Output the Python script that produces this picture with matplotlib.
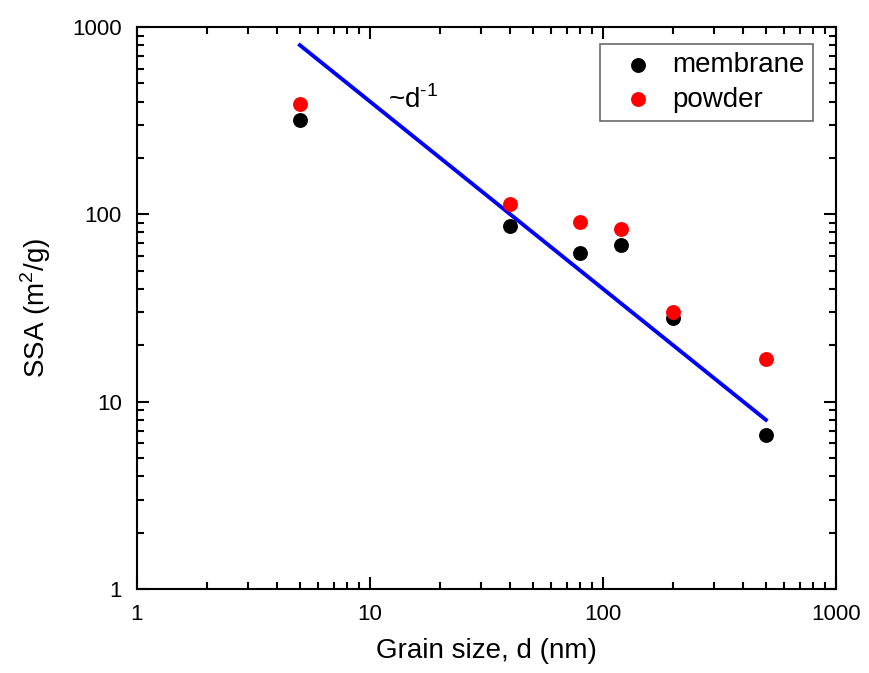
import matplotlib
matplotlib.use('Agg')
from matplotlib import pyplot as plt
import numpy as np

plt.rcParams['font.family'] = ['Liberation Sans', 'DejaVu Sans']
plt.rcParams['mathtext.fontset'] = 'custom'
plt.rcParams['mathtext.rm'] = 'Liberation Sans'

# grain size (nm)
d = [5, 40, 80, 120, 200, 500]
membrane = [320, 87, 62, 69, 28, 6.6]
powder = [390, 113, 91, 84, 30, 16.8]

# ~1/d guide line
fit_d = [5, 500]
fit_ssa = [800, 8]

fig = plt.figure(figsize=(8.69, 6.73), dpi=100)
ax = fig.add_axes([137/869, 1-589/673, (836-137)/869, (589-27)/673])

ax.plot(fit_d, fit_ssa, color='#0000ff', lw=2.8, zorder=2)
ax.scatter(d, membrane, s=115, color='black', label='membrane', zorder=3, linewidths=0)
ax.scatter(d, powder, s=115, color='#ff0000', label='powder', zorder=3, linewidths=0)

ax.set_xscale('log')
ax.set_yscale('log')
ax.set_xlim(1, 1000)
ax.set_ylim(1, 1000)
ax.set_xticks([1, 10, 100, 1000])
ax.set_xticklabels(['1', '10', '100', '1000'])
ax.set_yticks([1, 10, 100, 1000])
ax.set_yticklabels(['1', '10', '100', '1000'])

ax.tick_params(which='both', direction='in', top=True, right=True, labelsize=16, width=1.5)
ax.tick_params(which='major', length=8.5, pad=11)
ax.tick_params(which='minor', length=5)
for s in ax.spines.values():
    s.set_linewidth(1.5)

ax.text(12, 370, r'~d$^{\text{-1}}$', fontsize=20)

ax.set_xlabel('Grain size, d (nm)', fontsize=20)
ax.set_ylabel(r'SSA (m$^2$/g)', fontsize=20)
ax.xaxis.set_label_coords(0.5, -0.087)
ax.yaxis.set_label_coords(-0.12, 0.5)

leg = ax.legend(loc='upper right', bbox_to_anchor=(0.967, 0.97), fontsize=20, frameon=True,
                fancybox=False, edgecolor='#444444', handletextpad=0.15, borderpad=0.3,
                labelspacing=0.3, handlelength=2.15, borderaxespad=0)
leg.get_frame().set_linewidth(1.2)

plt.savefig('out.png', dpi=100)
